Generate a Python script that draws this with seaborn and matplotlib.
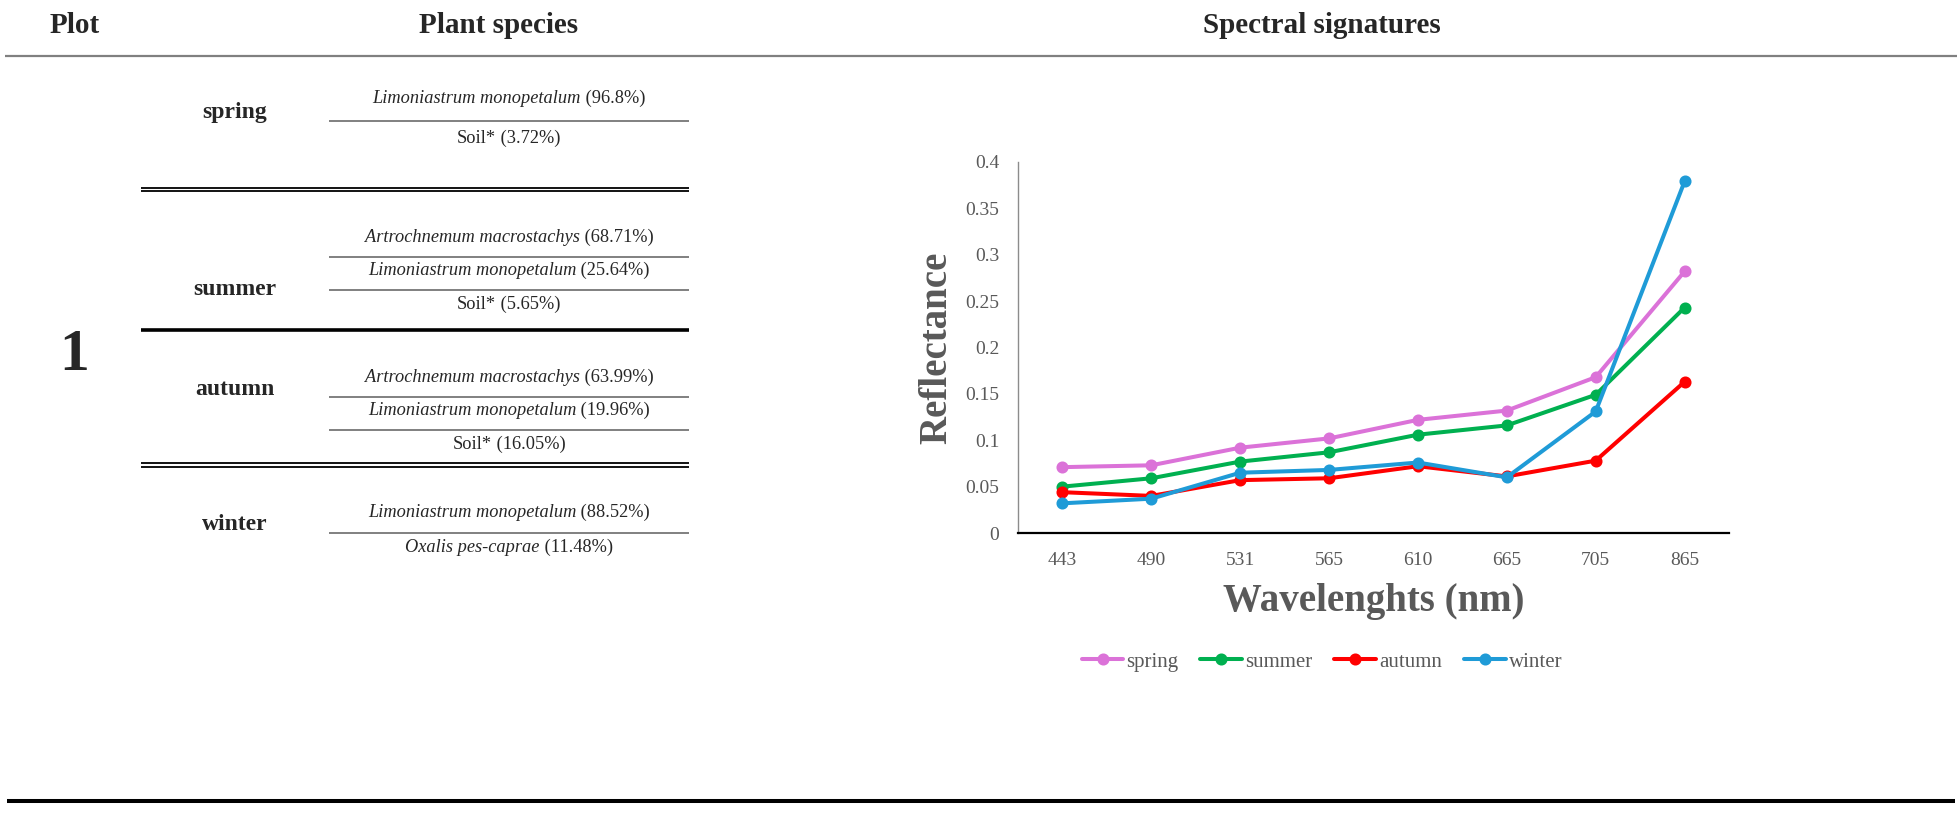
import matplotlib
matplotlib.use("Agg")
import matplotlib.pyplot as plt
import numpy as np
import pandas as pd
import seaborn as sns

# ---- data -------------------------------------------------------------
headers = ["Plot", "Plant species", "Spectral signatures"]
plot_id = "1"

seasons = ["spring", "summer", "autumn", "winter"]
season_colors = ["#DB72D8", "#00B050", "#FF0000", "#1F9BD7"]

wavelengths = ["443", "490", "531", "565", "610", "665", "705", "865"]
spring_refl = [0.071, 0.073, 0.092, 0.102, 0.122, 0.132, 0.168, 0.282]
summer_refl = [0.050, 0.059, 0.077, 0.087, 0.106, 0.116, 0.149, 0.243]
autumn_refl = [0.044, 0.040, 0.057, 0.059, 0.072, 0.061, 0.078, 0.163]
winter_refl = [0.032, 0.037, 0.065, 0.068, 0.076, 0.060, 0.131, 0.379]

spring_species = ["Limoniastrum monopetalum", "Soil*"]
spring_cover = [96.8, 3.72]
summer_species = ["Artrochnemum macrostachys", "Limoniastrum monopetalum", "Soil*"]
summer_cover = [68.71, 25.64, 5.65]
autumn_species = ["Artrochnemum macrostachys", "Limoniastrum monopetalum", "Soil*"]
autumn_cover = [63.99, 19.96, 16.05]
winter_species = ["Limoniastrum monopetalum", "Oxalis pes-caprae"]
winter_cover = [88.52, 11.48]

y_ticks = [0, 0.05, 0.1, 0.15, 0.2, 0.25, 0.3, 0.35, 0.4]

# ---- figure -----------------------------------------------------------
W, H = 1957, 832
sns.set_style("white")
plt.rcParams["font.family"] = ["Liberation Serif", "DejaVu Serif"]

fig = plt.figure(figsize=(W / 100, H / 100), dpi=100)
fig.patch.set_facecolor("white")

# pixel-space layer for the table part
tab = fig.add_axes([0, 0, 1, 1])
tab.set_xlim(0, W)
tab.set_ylim(H, 0)
tab.axis("off")

header_x = [75, 499, 1322]
for hx, h in zip(header_x, headers):
    tab.text(hx, 33, h, ha="center", va="baseline", fontsize=21, fontweight="bold")
tab.hlines(56, 5, W, color="#808080", lw=1.6)
tab.hlines(800.5, 7, W - 2, color="black", lw=2.9)

tab.text(74, 370, plot_id, ha="center", va="baseline", fontsize=43, fontweight="bold")

# block separators
sep_x0, sep_x1 = 141, 689
for y in (187.7, 191.2, 463.3, 466.8):
    tab.hlines(y, sep_x0, sep_x1, color="black", lw=1.3)
tab.hlines(330, sep_x0, sep_x1, color="black", lw=2.6)

blocks = [
    (seasons[0], spring_species, spring_cover),
    (seasons[1], summer_species, summer_cover),
    (seasons[2], autumn_species, autumn_cover),
    (seasons[3], winter_species, winter_cover),
]
first_baseline = [103, 242, 382, 517]
row_pitch = [40, 33.3, 33.3, 35]
label_baseline = [118, 295, 395, 530]

fig.canvas.draw()
renderer = fig.canvas.get_renderer()
species_cx = 509
row_x0, row_x1 = 329, 689

for (label, names, cover), y0, pitch, ly in zip(blocks, first_baseline, row_pitch, label_baseline):
    tab.text(235, ly, label, ha="center", va="baseline", fontsize=17, fontweight="bold")
    for i, (name, pct) in enumerate(zip(names, cover)):
        y = y0 + i * pitch
        style = "normal" if name.endswith("*") else "italic"
        t1 = tab.text(0, y, name, ha="left", va="baseline", fontsize=13.2, fontstyle=style)
        t2 = tab.text(0, y, f" ({pct:g}%)", ha="left", va="baseline", fontsize=13.2)
        w1 = t1.get_window_extent(renderer).width
        w2 = t2.get_window_extent(renderer).width
        left = species_cx - (w1 + w2) / 2
        t1.set_x(left)
        t2.set_x(left + w1)
        if i < len(names) - 1:
            tab.hlines(y + 0.45 * pitch, row_x0, row_x1, color="#808080", lw=1.4)

# ---- spectral chart ----------------------------------------------------
ax_l, ax_r, ax_t, ax_b = 1018, 1729, 162, 533
ax = fig.add_axes([ax_l / W, 1 - ax_b / H, (ax_r - ax_l) / W, (ax_b - ax_t) / H])

refl = [spring_refl, summer_refl, autumn_refl, winter_refl]
df = pd.DataFrame({
    "wavelength": np.tile(wavelengths, len(seasons)),
    "reflectance": np.concatenate(refl),
    "season": np.repeat(seasons, len(wavelengths)),
})

sns.pointplot(
    data=df, x="wavelength", y="reflectance", hue="season",
    order=wavelengths, hue_order=seasons, palette=season_colors,
    markers="o", linestyles="-", errorbar=None,
    markersize=6.5, linewidth=2.9, ax=ax,
)

ax.set_xlim(-0.5, len(wavelengths) - 0.5)
ax.set_ylim(0, 0.4)
ax.set_yticks(y_ticks)
ax.set_yticklabels([f"{v:g}" for v in y_ticks])
ax.set_xticks([-0.5, len(wavelengths) - 0.5], minor=True)

for side in ("top", "right"):
    ax.spines[side].set_visible(False)
ax.spines["left"].set_color("#8C8C8C")
ax.spines["left"].set_linewidth(1.0)
ax.spines["bottom"].set_color("black")
ax.spines["bottom"].set_linewidth(1.6)

ax.tick_params(axis="y", direction="in", length=5, width=1, color="#404040",
               pad=13.5, labelsize=14, labelcolor="#595959")
ax.tick_params(axis="x", which="both", direction="in", length=5, width=1, color="black",
               pad=14, labelsize=14, labelcolor="#595959")

ax.set_ylabel("Reflectance", fontsize=28, fontweight="bold", color="#595959", va="center")
ax.yaxis.set_label_coords(-0.114, 0.5)
ax.set_xlabel("Wavelenghts (nm)", fontsize=28, fontweight="bold", color="#595959", va="center")
ax.xaxis.set_label_coords(0.5, -0.185)

sns.move_legend(
    ax, "center", bbox_to_anchor=(0.4276, -0.3477), ncol=4, title=None,
    frameon=False, fontsize=15, handlelength=2.0, handletextpad=0.15,
    columnspacing=1.05, labelcolor="#595959",
)

fig.savefig("out.png", dpi=100, facecolor="white")
